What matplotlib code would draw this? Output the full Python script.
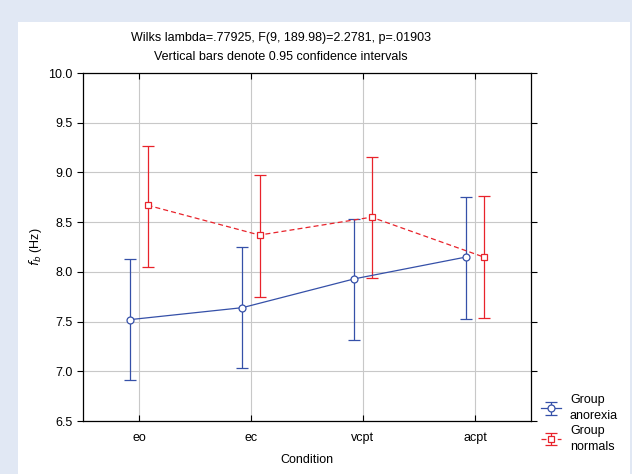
import numpy as np
import matplotlib
matplotlib.use('Agg')
import matplotlib.pyplot as plt
from matplotlib.patches import Rectangle

conditions = ['eo', 'ec', 'vcpt', 'acpt']

anorexia_mean = [7.52, 7.64, 7.93, 8.15]
anorexia_low = [6.91, 7.03, 7.31, 7.53]
anorexia_high = [8.13, 8.25, 8.53, 8.75]

normals_mean = [8.67, 8.37, 8.55, 8.15]
normals_low = [8.05, 7.75, 7.94, 7.54]
normals_high = [9.27, 8.97, 9.16, 8.76]

title_lines = ['Wilks lambda=.77925, F(9, 189.98)=2.2781, p=.01903',
               'Vertical bars denote 0.95 confidence intervals']

plt.rcParams['font.family'] = ['Liberation Sans', 'DejaVu Sans']
plt.rcParams['font.size'] = 9

blue = '#3550A8'
red = '#E8232B'

fig = plt.figure(figsize=(6.32, 4.74), dpi=100)
fig.patch.set_facecolor('#E1E8F4')
# white inner panel
fig.patches.append(Rectangle((18 / 632, 0), (630 - 18) / 632, 1 - 22 / 474,
                             transform=fig.transFigure, facecolor='white',
                             edgecolor='none', zorder=-10))

ax = fig.add_axes([83 / 632, 1 - 421 / 474, (531 - 83) / 632, (421 - 73) / 474])
ax.set_zorder(5)

x = np.arange(len(conditions))
off = 0.076

am = np.array(anorexia_mean)
nm = np.array(normals_mean)
a_err = [am - np.array(anorexia_low), np.array(anorexia_high) - am]
n_err = [nm - np.array(normals_low), np.array(normals_high) - nm]

ax.errorbar(x - off, am, yerr=a_err, color=blue, lw=0.9, elinewidth=0.9,
            capsize=4.3, capthick=0.9, marker='o', ms=5, mfc='white',
            mec=blue, mew=0.9, label='Group\nanorexia', zorder=3)
ax.errorbar(x + off, nm, yerr=n_err, color=red, lw=0.9, elinewidth=0.9,
            capsize=4.3, capthick=0.9, marker='s', ms=5, mfc='white',
            mec=red, mew=0.9, ls=(0, (4, 2.5)), label='Group\nnormals', zorder=3)

ax.set_xlim(-0.5, 3.5)
ax.set_ylim(6.5, 10.0)
ax.set_xticks(x)
ax.set_xticklabels(conditions)
ax.set_yticks(np.arange(6.5, 10.01, 0.5))
ax.yaxis.set_major_formatter(matplotlib.ticker.FormatStrFormatter('%.1f'))
ax.grid(True, color='#C8C8C8', lw=0.8)
ax.set_axisbelow(True)
ax.tick_params(axis='y', direction='out', length=4, width=0.8, right=True)
ax.tick_params(axis='x', direction='in', length=4, width=0.8, top=True)
ax.tick_params(axis='x', pad=8)
for s in ax.spines.values():
    s.set_linewidth(0.9)

ax.set_xlabel('Condition', labelpad=7)
ax.set_ylabel('$f_b$ (Hz)', labelpad=3)

fig.text(281 / 632, 1 - 38 / 474, title_lines[0], ha='center', va='center')
fig.text(281 / 632, 1 - 57 / 474, title_lines[1], ha='center', va='center')

leg = ax.legend(loc='upper left', bbox_to_anchor=(535 / 632, 1 - 388 / 474),
                bbox_transform=fig.transFigure, frameon=False, handlelength=1.6,
                handletextpad=0.7, labelspacing=0.2, borderpad=0)
for t in leg.get_texts():
    t.set_linespacing(1.45)

fig.savefig('out.png', dpi=100, facecolor=fig.get_facecolor())
